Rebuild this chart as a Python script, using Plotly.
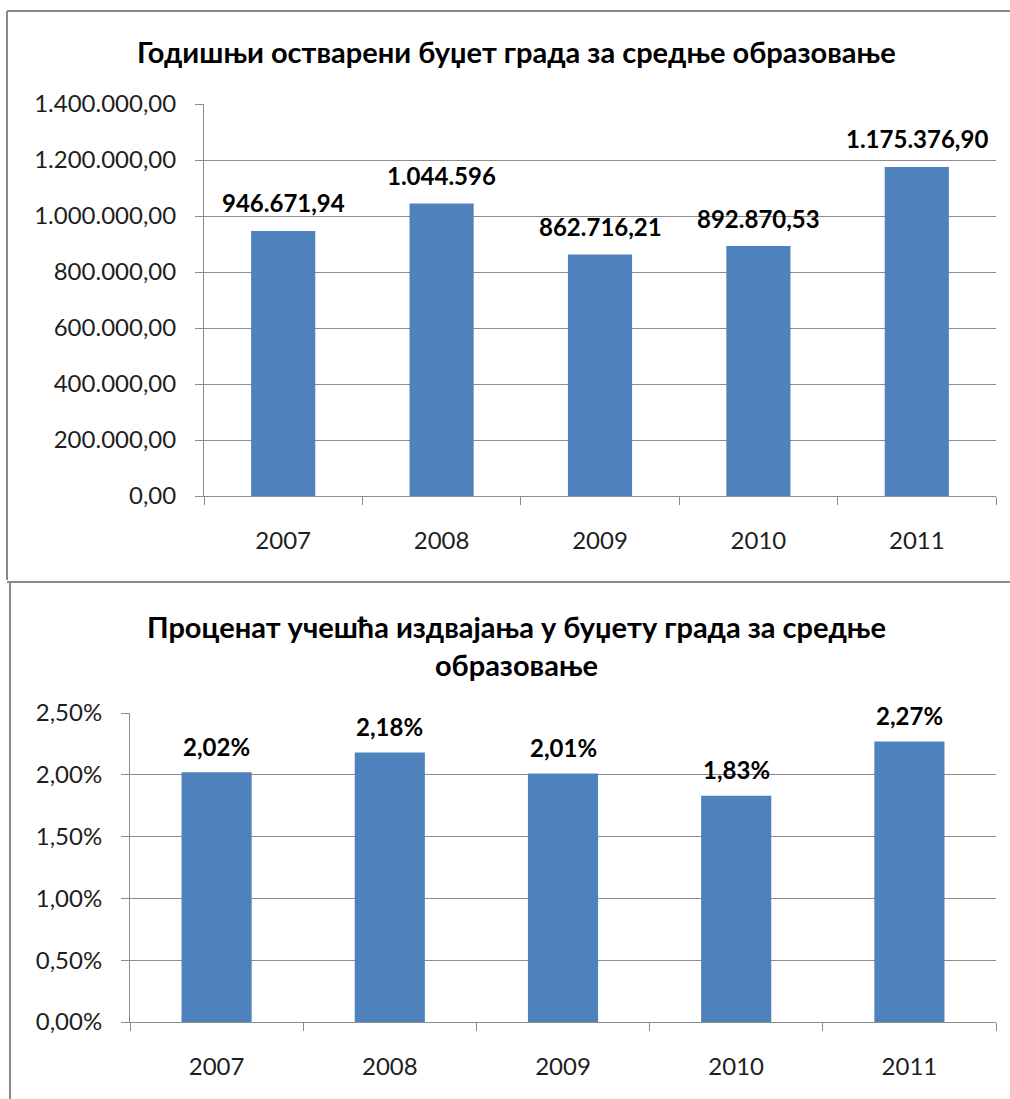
import plotly.graph_objects as go

years = ["2007", "2008", "2009", "2010", "2011"]

budget = [946671.94, 1044596.00, 862716.21, 892870.53, 1175376.90]
budget_labels = ["946.671,94", "1.044.596", "862.716,21", "892.870,53", "1.175.376,90"]

share = [0.0202, 0.0218, 0.0201, 0.0183, 0.0227]
share_labels = ["2,02%", "2,18%", "2,01%", "1,83%", "2,27%"]

title_top = "Годишњи остварени буџет града за средње образовање"
title_bottom = "Проценат учешћа издвајања у буџету града за средње<br>образовање"

W, H = 1010, 1099
FONT = "Lato, Carlito, Calibri, sans-serif"
BAR = "#4f81bd"
GRID = "#8c8c8c"


def px_x(p):
    return p / W


def px_y(p):
    return 1 - p / H


fig = go.Figure()

fig.add_trace(go.Bar(x=years, y=budget, marker=dict(color=BAR, line=dict(width=0)),
                     xaxis="x", yaxis="y", hoverinfo="x+y"))
fig.add_trace(go.Bar(x=years, y=share, marker=dict(color=BAR, line=dict(width=0)),
                     xaxis="x2", yaxis="y2", hoverinfo="x+y"))

annotations = []
# value labels; x is the category index (numeric strings would be read as positions)
for i, (v, lab) in enumerate(zip(budget, budget_labels)):
    annotations.append(dict(x=i, y=v, xref="x", yref="y", text=lab, showarrow=False,
                            yanchor="middle", yshift=28,
                            font=dict(family=FONT, size=24, color="#000000", weight="bold")))
for i, (v, lab) in enumerate(zip(share, share_labels)):
    annotations.append(dict(x=i, y=v, xref="x2", yref="y2", text=lab, showarrow=False,
                            yanchor="middle", yshift=26,
                            font=dict(family=FONT, size=24, color="#000000", weight="bold")))

# chart titles
annotations.append(dict(x=px_x(516), y=px_y(51), xref="paper", yref="paper", text=title_top,
                        showarrow=False, xanchor="center", yanchor="middle",
                        font=dict(family=FONT, size=29, color="#000000", weight="bold")))
annotations.append(dict(x=px_x(516), y=px_y(645), xref="paper", yref="paper", text=title_bottom,
                        showarrow=False, xanchor="center", yanchor="middle", align="center",
                        font=dict(family=FONT, size=29, color="#000000", weight="bold")))

axis_common = dict(showline=True, linecolor=GRID, linewidth=1, ticks="outside", ticklen=8,
                   tickcolor=GRID, automargin=False,
                   tickfont=dict(family=FONT, size=24, color="#1e1e1e"))

fig.update_layout(
    width=W, height=H,
    margin=dict(l=0, r=0, t=0, b=0, autoexpand=False),
    paper_bgcolor="white", plot_bgcolor="white",
    showlegend=False,
    separators=",.",
    bargap=0.595,
    font=dict(family=FONT),
    annotations=annotations,
    xaxis=dict(domain=[px_x(204), px_x(996)], anchor="y", type="category", tickson="boundaries",
               range=[-0.5, len(years) - 0.5], tickangle=0, showgrid=False,
               ticklabelstandoff=23, **axis_common),
    yaxis=dict(domain=[px_y(496), px_y(104)], anchor="x", range=[0, 1400000], dtick=200000,
               tickformat=",.2f", showgrid=True, gridcolor=GRID, gridwidth=1,
               zeroline=False, ticklabelstandoff=14, **axis_common),
    xaxis2=dict(domain=[px_x(130), px_x(996)], anchor="y2", type="category", tickson="boundaries",
                range=[-0.5, len(years) - 0.5], tickangle=0, showgrid=False,
                ticklabelstandoff=23, **axis_common),
    yaxis2=dict(domain=[px_y(1022), px_y(713)], anchor="x2", range=[0, 0.025], dtick=0.005,
                tickformat=".2%", showgrid=True, gridcolor=GRID, gridwidth=1,
                zeroline=False, ticklabelstandoff=14, **axis_common),
    shapes=[
        # top chart frame
        dict(type="line", xref="paper", yref="paper", x0=px_x(7), x1=1, y0=px_y(11), y1=px_y(11),
             line=dict(color="#8a8a8a", width=2)),
        dict(type="line", xref="paper", yref="paper", x0=px_x(7), x1=px_x(7), y0=px_y(11), y1=px_y(580),
             line=dict(color="#8a8a8a", width=2)),
        # bottom chart frame
        dict(type="line", xref="paper", yref="paper", x0=px_x(7), x1=1, y0=px_y(582), y1=px_y(582),
             line=dict(color="#8a8a8a", width=2)),
        dict(type="line", xref="paper", yref="paper", x0=px_x(10), x1=px_x(10), y0=px_y(582), y1=0,
             line=dict(color="#8a8a8a", width=2)),
    ],
)

fig.write_html("out.html", config={"displayModeBar": False},
               post_script="document.body.style.margin='0';")
